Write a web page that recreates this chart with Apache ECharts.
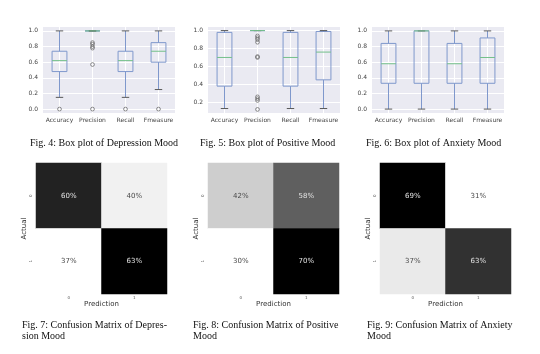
<!DOCTYPE html>
<html><head><meta charset="utf-8">
<script src="https://cdn.jsdelivr.net/npm/echarts@6/dist/echarts.min.js"></script>
<style>html,body{margin:0;padding:0;background:#fff}#c{width:540px;height:354px}</style>
</head><body><div id="c"></div>
<script>
// ---------- data ----------
const categories = ['Accuracy', 'Precision', 'Recall', 'Fmeasure'];
// each row: [low whisker, Q1, median, Q3, high whisker]
const depressionBox = [[0.15, 0.48, 0.62, 0.74, 1.0], [1.0, 1.0, 1.0, 1.0, 1.0], [0.15, 0.48, 0.62, 0.74, 1.0], [0.25, 0.60, 0.74, 0.85, 1.0]];
const depressionOutliers = [[0.0], [0.85, 0.83, 0.80, 0.78, 0.57, 0.0], [0.0], [0.0]];
const positiveBox = [[0.13, 0.38, 0.70, 0.98, 1.0], [1.0, 1.0, 1.0, 1.0, 1.0], [0.13, 0.38, 0.70, 0.98, 1.0], [0.13, 0.45, 0.76, 0.99, 1.0]];
const positiveOutliers = [[], [0.94, 0.92, 0.90, 0.87, 0.71, 0.70, 0.26, 0.24, 0.22, 0.12], [], []];
const anxietyBox = [[0.0, 0.33, 0.58, 0.84, 1.0], [0.0, 0.33, 1.0, 1.0, 1.0], [0.0, 0.33, 0.58, 0.84, 1.0], [0.0, 0.33, 0.66, 0.91, 1.0]];
const anxietyOutliers = [[], [], [], []];
const boxTicks = [0.0, 0.2, 0.4, 0.6, 0.8, 1.0];
const positiveTicks = [0.2, 0.4, 0.6, 0.8, 1.0];
const cmTickLabels = ['0', '1'];
// rows = actual, cols = prediction
const cmDepression = [[0.60, 0.40], [0.37, 0.63]];
const cmPositive = [[0.42, 0.58], [0.30, 0.70]];
const cmAnxiety = [[0.69, 0.31], [0.37, 0.63]];
const boxCaptions = ['Fig. 4: Box plot of Depression Mood', 'Fig. 5: Box plot of Positive Mood', 'Fig. 6: Box plot of Anxiety Mood'];
const cmCaptions = ['Fig. 7: Confusion Matrix of Depres-\nsion Mood', 'Fig. 8: Confusion Matrix of Positive\nMood', 'Fig. 9: Confusion Matrix of Anxiety\nMood'];

// ---------- styling ----------
const SANS = 'DejaVu Sans';
const SERIF = 'Liberation Serif';
const BOX = '#7f98cc';
const MED = '#74c08a';
const CAP = '#5a5a5a';
const GREYS = ['#ffffff', '#f0f0f0', '#d9d9d9', '#bdbdbd', '#969696', '#737373', '#525252', '#252525', '#000000'];

const boxGrids = [
  {left: 43, top: 27, width: 132, height: 86},
  {left: 208, top: 27, width: 132, height: 86},
  {left: 372, top: 27, width: 132, height: 86}
];
const cmGrids = [
  {left: 36, top: 163, width: 131, height: 131},
  {left: 208, top: 163, width: 131, height: 131},
  {left: 380, top: 163, width: 131, height: 131}
];
const yRanges = [[-0.05, 1.05], [0.08, 1.04], [-0.05, 1.05]];
const yTickSets = [boxTicks, positiveTicks, boxTicks];
const boxSets = [depressionBox, positiveBox, anxietyBox];
const outlierSets = [depressionOutliers, positiveOutliers, anxietyOutliers];
const cmSets = [cmDepression, cmPositive, cmAnxiety];

function renderBox(params, api) {
  const x = api.value(0);
  const low = api.coord([x, api.value(1)]);
  const q1 = api.coord([x, api.value(2)]);
  const med = api.coord([x, api.value(3)]);
  const q3 = api.coord([x, api.value(4)]);
  const high = api.coord([x, api.value(5)]);
  const bw = api.size([0.45, 0])[0];
  const cw = bw / 2;
  const cx = low[0];
  const ls = (stroke) => ({stroke: stroke, lineWidth: 1, fill: null});
  return {type: 'group', children: [
    {type: 'line', shape: {x1: cx, y1: low[1], x2: cx, y2: q1[1]}, style: ls(BOX)},
    {type: 'line', shape: {x1: cx, y1: q3[1], x2: cx, y2: high[1]}, style: ls(BOX)},
    {type: 'rect', shape: {x: cx - bw / 2, y: q3[1], width: bw, height: q1[1] - q3[1]}, style: ls(BOX)},
    {type: 'line', shape: {x1: cx - cw / 2, y1: low[1], x2: cx + cw / 2, y2: low[1]}, style: ls(CAP)},
    {type: 'line', shape: {x1: cx - cw / 2, y1: high[1], x2: cx + cw / 2, y2: high[1]}, style: ls(CAP)},
    {type: 'line', shape: {x1: cx - bw / 2, y1: med[1], x2: cx + bw / 2, y2: med[1]}, style: ls(MED)}
  ]};
}

const grids = [], xAxes = [], yAxes = [], series = [], visualMaps = [], titles = [];

boxGrids.forEach((g, i) => {
  grids.push(Object.assign({show: true, backgroundColor: '#eaeaf2', borderWidth: 0}, g));
  xAxes.push({
    type: 'value', gridIndex: i, min: 0.5, max: categories.length + 0.5,
    axisLine: {show: false},
    axisTick: {show: false, customValues: categories.map((c, k) => k + 1)},
    axisLabel: {customValues: categories.map((c, k) => k + 1), formatter: v => categories[Math.round(v) - 1],
      fontFamily: SANS, fontSize: 6, color: '#444', margin: 4},
    splitLine: {show: true, lineStyle: {color: '#ffffff', width: 1}}
  });
  yAxes.push({
    type: 'value', gridIndex: i, min: yRanges[i][0], max: yRanges[i][1],
    axisLine: {show: false},
    axisTick: {show: false, customValues: yTickSets[i]},
    axisLabel: {customValues: yTickSets[i], formatter: v => v.toFixed(1),
      fontFamily: SANS, fontSize: 6, color: '#444', margin: 5},
    splitLine: {show: true, lineStyle: {color: '#ffffff', width: 1}}
  });
  series.push({
    type: 'custom', xAxisIndex: i, yAxisIndex: i,
    renderItem: renderBox,
    encode: {x: 0, y: [1, 2, 3, 4, 5]},
    data: boxSets[i].map((b, k) => [k + 1].concat(b)),
    silent: true, z: 3
  });
  const pts = [];
  outlierSets[i].forEach((arr, k) => arr.forEach(v => pts.push([k + 1, v])));
  series.push({
    type: 'scatter', xAxisIndex: i, yAxisIndex: i, data: pts,
    symbol: 'circle', symbolSize: 3.8,
    itemStyle: {color: 'rgba(0,0,0,0)', borderColor: '#666', borderWidth: 0.9},
    silent: true, z: 4
  });
});

cmGrids.forEach((g, j) => {
  const gi = 3 + j;
  grids.push(Object.assign({show: false}, g));
  xAxes.push({
    type: 'category', gridIndex: gi, data: cmTickLabels, position: 'bottom',
    axisLine: {show: false}, axisTick: {show: false},
    axisLabel: {fontFamily: SANS, fontSize: 4, color: '#555', margin: 2},
    splitLine: {show: false},
    name: 'Prediction', nameLocation: 'middle', nameGap: 5,
    nameTextStyle: {fontFamily: SANS, fontSize: 7, color: '#333'}
  });
  yAxes.push({
    type: 'category', gridIndex: gi, data: cmTickLabels, inverse: true,
    axisLine: {show: false}, axisTick: {show: false},
    axisLabel: {fontFamily: SANS, fontSize: 4, color: '#555', margin: 3, rotate: 90},
    splitLine: {show: false},
    name: 'Actual', nameLocation: 'middle', nameGap: 5, nameRotate: 90,
    nameTextStyle: {fontFamily: SANS, fontSize: 7, color: '#333'}
  });
  const m = cmSets[j];
  const flat = m.flat();
  const lo = Math.min.apply(null, flat), hi = Math.max.apply(null, flat);
  const data = [];
  m.forEach((row, r) => row.forEach((v, c) => {
    const dark = (v - lo) / (hi - lo) > 0.5;
    data.push({value: [c, r, v], label: {color: dark ? '#e2e2e2' : '#4a4a4a'}});
  }));
  visualMaps.push({type: 'continuous', show: false, seriesIndex: series.length, min: lo, max: hi, dimension: 2,
    inRange: {color: GREYS}});
  series.push({
    type: 'heatmap', xAxisIndex: gi, yAxisIndex: gi, data: data,
    label: {show: true, formatter: p => Math.round(p.value[2] * 100) + '%', fontFamily: SANS, fontSize: 7},
    itemStyle: {borderWidth: 0},
    silent: true
  });
});

const boxCapPos = [[30, 138], [200, 138], [366, 138]];
boxCaptions.forEach((t, i) => titles.push({text: t, left: boxCapPos[i][0], top: boxCapPos[i][1], padding: 0,
  textStyle: {fontFamily: SERIF, fontSize: 10, fontWeight: 'normal', color: '#111'}}));
const cmCapPos = [[22, 320.5], [193, 320.5], [367, 320.5]];
cmCaptions.forEach((t, i) => titles.push({text: t, left: cmCapPos[i][0], top: cmCapPos[i][1], padding: 0,
  textStyle: {fontFamily: SERIF, fontSize: 10, fontWeight: 'normal', color: '#111', lineHeight: 10.7}}));

const chart = echarts.init(document.getElementById('c'), null, {renderer: 'canvas'});
chart.setOption({
  animation: false,
  backgroundColor: '#ffffff',
  title: titles,
  grid: grids, xAxis: xAxes, yAxis: yAxes,
  visualMap: visualMaps,
  series: series
});
</script></body></html>
